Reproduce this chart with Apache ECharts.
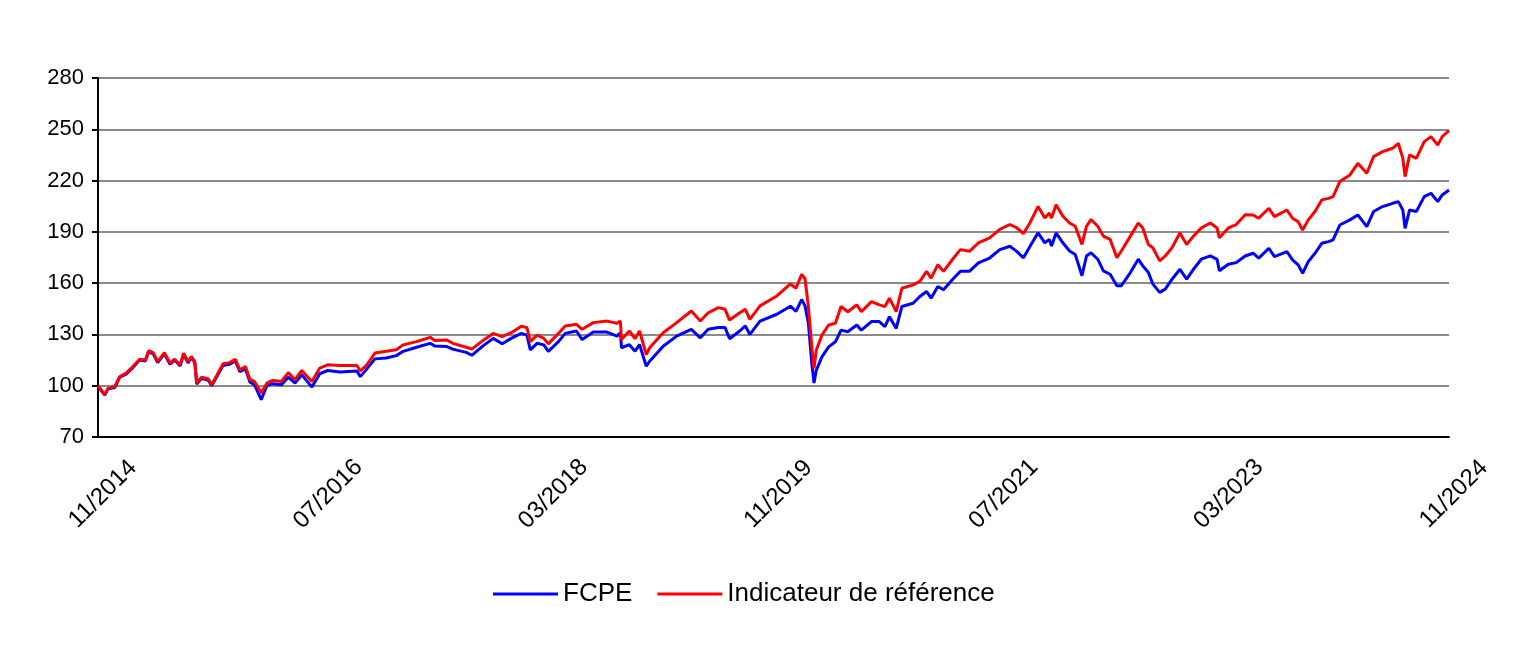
<!DOCTYPE html>
<html>
<head>
<meta charset="utf-8">
<script src="https://cdn.jsdelivr.net/npm/echarts@6/dist/echarts.min.js"></script>
<style>
html,body{margin:0;padding:0;background:#fff;}
#chart{width:1536px;height:652px;}
</style>
</head>
<body>
<div id="chart"></div>
<script>
const seriesNames = ['FCPE', 'Indicateur de référence'];
const xTickLabels = ['11/2014','07/2016','03/2018','11/2019','07/2021','03/2023','11/2024'];
const yTicks = [70,100,130,160,190,220,250,280];

const dates = [
'2014-11-01','2014-11-10','2014-11-19','2014-11-28','2014-12-16','2014-12-29',
'2015-01-16','2015-02-04','2015-02-22','2015-03-07','2015-03-16','2015-03-28',
'2015-04-10','2015-04-28','2015-05-13','2015-05-25','2015-06-10','2015-06-19',
'2015-07-01','2015-07-10','2015-07-19','2015-07-24','2015-08-07','2015-08-25',
'2015-09-04','2015-09-16','2015-10-04','2015-10-22','2015-11-07','2015-11-19',
'2015-12-04','2015-12-16','2015-12-28','2016-01-16','2016-02-01','2016-02-16',
'2016-03-10','2016-03-28','2016-04-16','2016-05-04','2016-06-01','2016-06-22',
'2016-07-13','2016-08-16','2016-10-01','2016-10-10','2016-10-28','2016-11-19',
'2016-12-19','2017-01-16','2017-02-04','2017-03-10','2017-04-16','2017-04-28',
'2017-06-01','2017-06-16','2017-07-22','2017-08-07','2017-09-07','2017-10-04',
'2017-10-28','2017-11-22','2017-12-19','2018-01-04','2018-01-13','2018-02-01',
'2018-02-19','2018-03-01','2018-03-28','2018-04-16','2018-05-16','2018-06-01',
'2018-07-01','2018-08-07','2018-09-04','2018-09-13','2018-09-16','2018-10-07',
'2018-10-22','2018-11-04','2018-11-22','2018-12-01','2019-01-07','2019-02-13',
'2019-03-22','2019-04-16','2019-05-07','2019-06-04','2019-06-22','2019-07-04',
'2019-08-01','2019-08-16','2019-08-28','2019-09-25','2019-11-10','2019-12-16',
'2020-01-01','2020-01-16','2020-01-25','2020-02-04','2020-02-13','2020-02-19',
'2020-02-25','2020-03-10','2020-03-28','2020-04-16','2020-05-01','2020-05-19',
'2020-06-13','2020-06-25','2020-07-22','2020-08-13','2020-08-28','2020-09-10',
'2020-09-28','2020-10-13','2020-11-13','2020-12-01','2020-12-19','2021-01-01',
'2021-01-19','2021-02-04','2021-03-01','2021-03-19','2021-04-13','2021-05-07',
'2021-06-07','2021-07-04','2021-08-01','2021-08-19','2021-09-07','2021-09-25',
'2021-10-16','2021-11-04','2021-11-16','2021-11-22','2021-12-04','2021-12-22',
'2022-01-10','2022-01-25','2022-02-13','2022-02-25','2022-03-07','2022-03-25',
'2022-04-10','2022-04-28','2022-05-16','2022-05-28','2022-06-22','2022-07-13',
'2022-07-25','2022-08-10','2022-08-22','2022-09-10','2022-09-25','2022-10-13',
'2022-11-04','2022-11-22','2022-12-10','2023-01-01','2023-01-25','2023-02-13',
'2023-02-19','2023-03-13','2023-04-04','2023-04-28','2023-05-19','2023-06-04',
'2023-07-01','2023-07-16','2023-08-19','2023-09-04','2023-09-19','2023-10-01',
'2023-10-16','2023-11-04','2023-11-22','2023-12-10','2023-12-22','2024-01-10',
'2024-02-07','2024-02-28','2024-03-22','2024-04-10','2024-05-04','2024-06-01',
'2024-06-16','2024-06-28','2024-07-04','2024-07-16','2024-08-04','2024-08-25',
'2024-09-13','2024-10-01','2024-10-13','2024-11-01'
];

const fcpe = [
100,97,94.5,98.2,99,105,
106.8,110.6,115,114.4,119.8,118.6,
113.5,118.6,112.6,115,111.6,118.3,
113.4,116.4,113.5,101,104.3,103.2,
100,104.6,111.8,112.6,114.5,108.2,
109.8,102,100.6,91.9,100,101.2,
100.6,105,101.5,106.4,99.2,107,
108.9,108,108.6,105.3,110,115.7,
116.2,117.6,120.1,122.5,124.8,123.3,
122.9,121.4,119.5,117.8,123.3,127.7,
124.5,127.7,130.6,129.6,121,124.8,
123.9,120.1,125.8,130.6,132,127,
131.4,131.4,129,131,122.2,124,
120.2,124.1,111.4,114.3,123.1,129,
133,128,133,134,134,127.5,
132,135,130,137.8,141.8,146.5,
143.5,150.4,146.8,136.5,113,101.6,
109,116.9,122.7,125.7,132.5,131.6,
135.5,132.5,137.5,137.5,134.5,140.4,
133.5,146.3,148.2,152.2,155.1,151.2,
158,156.1,162.9,166.9,166.9,171.8,
174.7,179.6,181.6,178.6,174.8,181.7,
189.4,183.6,185.6,181.7,189.4,183.6,
178.8,176.8,164.3,175.9,177.8,174,
167.2,165.2,158.5,158.5,166.2,174,
170.1,166.2,159.4,154.6,156.5,162.3,
168.1,162.3,168.1,174,175.9,173.9,
167.2,171,172,175.9,177.5,174.6,
180.4,175.5,178.5,173.6,170.7,165.8,
172.6,177.5,183.3,184.3,185.3,194,
197,199.9,193.1,201.9,204.8,206.7,
207.7,202.8,192.1,202.8,201.9,210.6,
212.6,207.7,211.6,214.5
];

const ref = [
100,97.5,94.8,98.6,99.6,105.4,
107.4,111.2,115.5,115.1,120.5,119.3,
114.1,119.3,113.2,115.5,112.2,119,
114.1,117,114.1,101.5,105,103.9,
100.6,105.4,112.8,113.5,115.5,109.3,
111.2,103.5,102.5,95.7,101.5,103.1,
102.5,107.7,103.5,108.9,102.5,110.3,
112.2,111.8,111.8,108.6,112.4,119.1,
120.1,121,123.9,125.8,128.3,126.4,
126.7,124.8,122.5,121.4,126.5,130.6,
128.7,131,134.8,134,125.8,129.6,
127.7,124.5,130.6,134.9,135.9,133,
136.9,137.8,136.5,137.8,127,132,
127.5,132,118.2,122.2,131,136.9,
143.7,137.8,142.7,145.7,144.7,138.4,
142.7,144.7,138.8,146.7,152.5,159.5,
157,165.1,162.6,146.3,122.7,110,
120.8,129.6,135.5,136.5,146.3,143.3,
147.3,143.3,149.2,147.3,146.3,151.2,
143.3,157,159,161,166.9,162.9,
170.8,166.9,174.7,179.6,178.6,183.5,
186.5,191.4,194.3,192.4,189,195.5,
204.9,198.1,201,198.1,205.9,199.1,
195.2,193.3,182.6,193.3,197.2,193.3,
187.5,185.6,174.9,178.8,187.5,195.2,
192.3,182.6,180.7,173,175.9,180.7,
189.4,182.6,187.5,192.3,195.2,192.3,
186.5,192.3,194.3,200,199.9,198,
203.8,198.9,202.8,198,196,191.1,
197,201.9,208.7,209.6,210.6,219.4,
223.3,230.1,224.3,234,236.9,238.9,
241.8,233,222.3,235,233,242.8,
245.7,240.8,245.7,249.2
];

// months elapsed since 11/2014
function toMonths(s){
  const p = s.split('-').map(Number);
  return (p[0]-2014)*12 + (p[1]-11) + (p[2]-1)/30;
}
const xs = dates.map(toMonths);
const fcpeData = xs.map((x,i)=>[x, fcpe[i]]);
const refData = xs.map((x,i)=>[x, ref[i]]);

const FONT = '"Liberation Sans", Arial, sans-serif';
const chart = echarts.init(document.getElementById('chart'), null, {renderer:'canvas'});
chart.setOption({
  animation:false,
  backgroundColor:'#ffffff',
  grid:{left:98, right:87, top:78, bottom:215, containLabel:false},
  legend:{
    data:seriesNames,
    left:488, top:576,
    icon:'rect', itemWidth:65, itemHeight:3, itemGap:25,
    textStyle:{fontFamily:FONT, fontSize:26, color:'#000'}
  },
  xAxis:{
    type:'value', min:0, max:120, interval:20,
    axisLine:{show:true, lineStyle:{color:'#000', width:2}},
    axisTick:{show:false},
    splitLine:{show:false},
    axisLabel:{
      rotate:45, align:'center', verticalAlign:'middle', margin:62,
      padding:[0,0,0,14],
      fontFamily:FONT, fontSize:24, color:'#000',
      showMinLabel:true, showMaxLabel:true, hideOverlap:false,
      formatter:function(v){ return xTickLabels[Math.round(v/20)] || ''; }
    }
  },
  yAxis:{
    type:'value', min:yTicks[0], max:yTicks[yTicks.length-1], interval:30,
    axisLine:{show:true, lineStyle:{color:'#000', width:2}},
    axisTick:{show:true, inside:false, length:6, lineStyle:{color:'#000', width:2}},
    splitLine:{show:true, lineStyle:{color:'#8a8a8a', width:2}},
    axisLabel:{fontFamily:FONT, fontSize:22, color:'#000', margin:14}
  },
  series:[
    {name:seriesNames[0], type:'line', data:fcpeData, showSymbol:false, symbol:'none',
     lineStyle:{color:'#0000ff', width:3}, itemStyle:{color:'#0000ff'}, z:2},
    {name:seriesNames[1], type:'line', data:refData, showSymbol:false, symbol:'none',
     lineStyle:{color:'#ff0000', width:3}, itemStyle:{color:'#ff0000'}, z:3}
  ]
});
</script>
</body>
</html>
